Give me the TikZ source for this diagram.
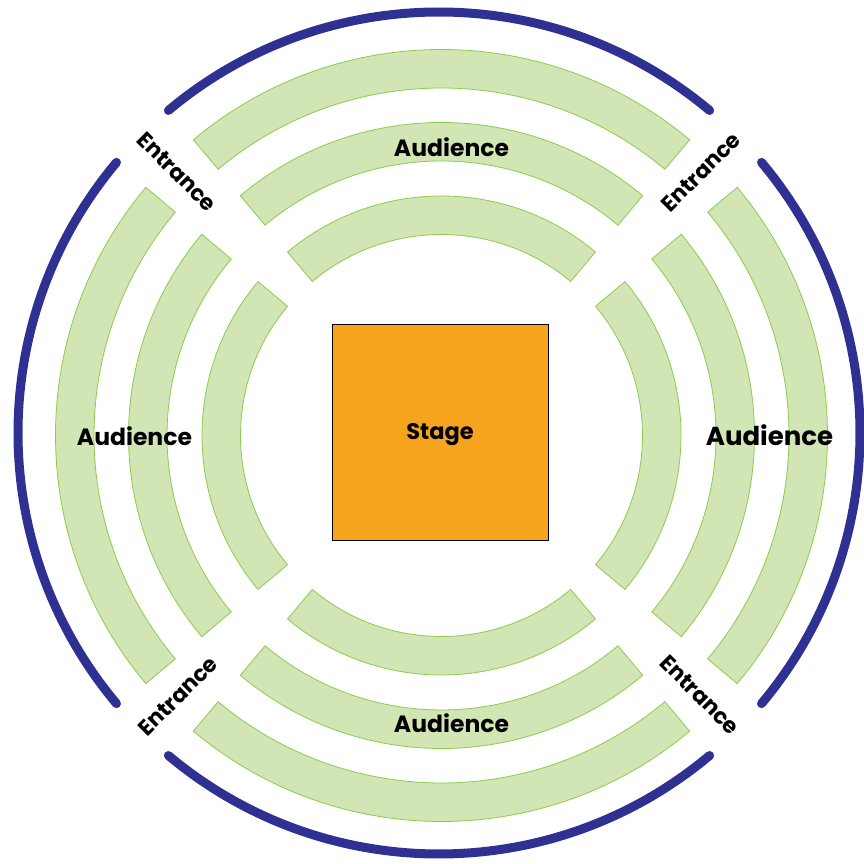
\documentclass[tikz,border=0pt]{standalone}
\usepackage{fontspec}
\setmainfont{Poppins}
\definecolor{wallblue}{HTML}{2E3192}
\definecolor{stageorange}{HTML}{F6A41D}
\definecolor{seatfill}{HTML}{D2E5B4}
\definecolor{seatline}{HTML}{8DCB4C}
\tikzset{
  seats/.style={fill=seatfill, draw=seatline, line width=0.8pt},
  wall/.style={draw=wallblue, line width=9pt, line cap=round},
  lbl/.style={font=\fontsize{23.5}{26}\selectfont\bfseries, inner sep=0pt},
  entlbl/.style={font=\fontsize{22}{25}\selectfont\bfseries, inner sep=0pt},
}
\begin{document}
\begin{tikzpicture}[x=1pt, y=1pt]
  \useasboundingbox (0,0) rectangle (864,864);

  \begin{scope}[shift={(439,431)}]
    \draw[wall] (50:421) arc[start angle=50, end angle=130, radius=421];
    \draw[wall] (140:421) arc[start angle=140, end angle=220, radius=421];
    \draw[wall] (230:421) arc[start angle=230, end angle=310, radius=421];
    \draw[wall] (320:421) arc[start angle=320, end angle=400, radius=421];
  \end{scope}

  \begin{scope}[shift={(441.5,428.5)}]
    % top
    \draw[seats] (50:386) arc[start angle=50, end angle=130, radius=386] -- (130:347.5) arc[start angle=130, end angle=50, radius=347.5] -- cycle;
    \draw[seats] (50:313) arc[start angle=50, end angle=130, radius=313] -- (130:274.5) arc[start angle=130, end angle=50, radius=274.5] -- cycle;
    \draw[seats] (50:239.5) arc[start angle=50, end angle=130, radius=239.5] -- (130:201) arc[start angle=130, end angle=50, radius=201] -- cycle;
    % left
    \draw[seats] (140:386) arc[start angle=140, end angle=220, radius=386] -- (220:347.5) arc[start angle=220, end angle=140, radius=347.5] -- cycle;
    \draw[seats] (140:313) arc[start angle=140, end angle=220, radius=313] -- (220:274.5) arc[start angle=220, end angle=140, radius=274.5] -- cycle;
    \draw[seats] (140:239.5) arc[start angle=140, end angle=220, radius=239.5] -- (220:201) arc[start angle=220, end angle=140, radius=201] -- cycle;
    % bottom
    \draw[seats] (230:386) arc[start angle=230, end angle=310, radius=386] -- (310:347.5) arc[start angle=310, end angle=230, radius=347.5] -- cycle;
    \draw[seats] (230:313) arc[start angle=230, end angle=310, radius=313] -- (310:274.5) arc[start angle=310, end angle=230, radius=274.5] -- cycle;
    \draw[seats] (230:239.5) arc[start angle=230, end angle=310, radius=239.5] -- (310:201) arc[start angle=310, end angle=230, radius=201] -- cycle;
    % right
    \draw[seats] (-40:386) arc[start angle=-40, end angle=40, radius=386] -- (40:347.5) arc[start angle=40, end angle=-40, radius=347.5] -- cycle;
    \draw[seats] (-40:313) arc[start angle=-40, end angle=40, radius=313] -- (40:274.5) arc[start angle=40, end angle=-40, radius=274.5] -- cycle;
    \draw[seats] (-40:239.5) arc[start angle=-40, end angle=40, radius=239.5] -- (40:201) arc[start angle=40, end angle=-40, radius=201] -- cycle;
  \end{scope}

  \node[fill=stageorange, draw=black, line width=1pt, minimum size=216pt] (stage) at (440,431) {};
  \node[lbl, font=\fontsize{22.5}{25}\selectfont\bfseries] (stagetext) at (440,429) {Stage};

  \node[lbl] (audtop) at (451.5,717) {Audience};
  \node[lbl] (audbottom) at (451.5,141) {Audience};
  \node[lbl] (audleft) at (134.5,428) {Audience};
  \node[lbl, font=\fontsize{26}{29}\selectfont\bfseries] (audright) at (769.5,429) {Audience};

  \node[entlbl, rotate=-45] (entnw) at (177,692) {Entrance};
  \node[entlbl, rotate=45] (entne) at (701,692) {Entrance};
  \node[entlbl, rotate=45] (entsw) at (178,168) {Entrance};
  \node[entlbl, rotate=-45] (entse) at (700,169) {Entrance};
\end{tikzpicture}
\end{document}
